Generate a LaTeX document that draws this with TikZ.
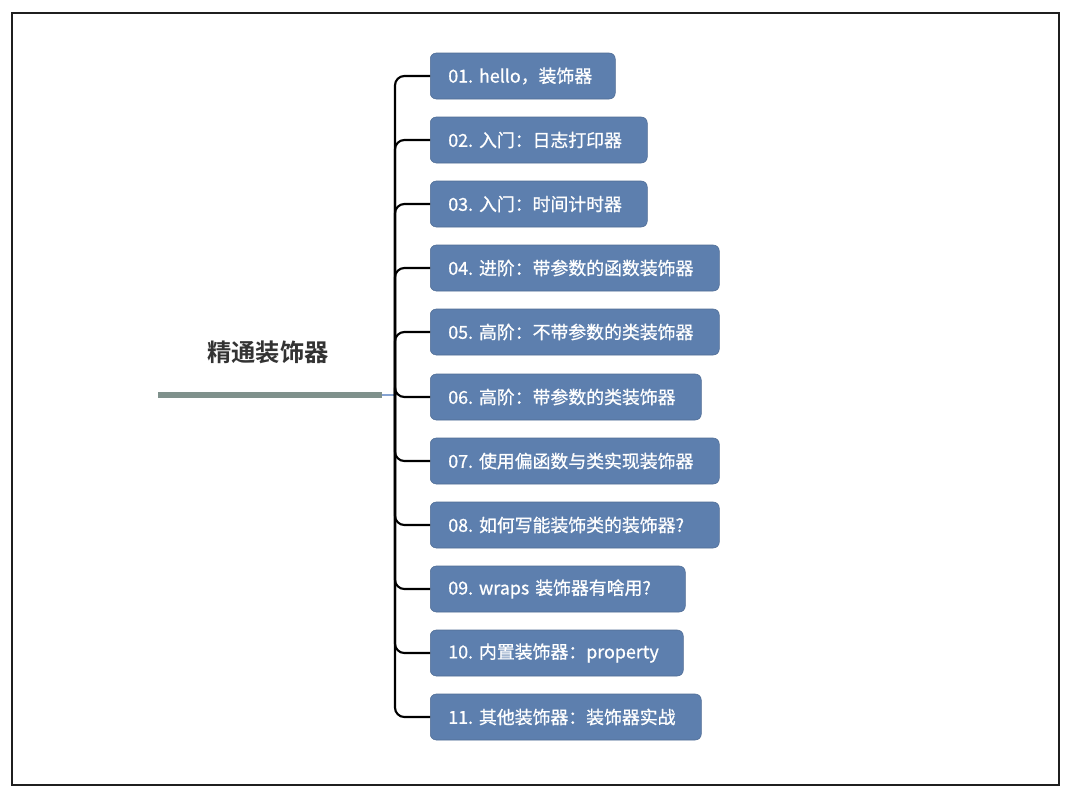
\documentclass[tikz,border=0pt]{standalone}
\usepackage{fontspec}
\setmainfont{Noto Sans CJK SC}[WordSpace=0.7, FakeBold=0.8]
\newfontfamily\cjkbold{Noto Sans CJK SC}[BoldFont={* Bold}]
\definecolor{boxblue}{HTML}{5D7FAE}
\definecolor{rootgray}{HTML}{7F918C}
\definecolor{thinblue}{HTML}{86A3D2}
\definecolor{titlegray}{HTML}{333333}
\frenchspacing
\begin{document}
\begin{tikzpicture}[x=0.75pt,y=-0.75pt,
  topicbox/.style={draw=boxblue!85!black, line width=0.4pt, fill=boxblue, rounded corners=4.5pt,
    text=white, anchor=west, minimum height=34.5pt, inner xsep=13.5pt, inner ysep=0pt,
    font=\fontsize{13.4}{15}\selectfont\frenchspacing, align=left},
  branch/.style={draw=black, line width=1.6pt, rounded corners=7pt},
]
\useasboundingbox (0,0) rectangle (1080,810);
\draw[line width=1.5pt, draw=black!88] (12,13) rectangle (1059,785);

\node[font=\cjkbold\bfseries\fontsize{18.2}{21}\selectfont, text=titlegray] (title) at (268,352) {精通装饰器};
\coordinate (rootL) at (158,395);
\coordinate (rootR) at (382,395);
\coordinate (hub) at (395,395);
\draw[line width=3.8pt, draw=rootgray] (rootL) -- (rootR);
\draw[line width=0.8pt, draw=thinblue] (rootR) -- (hub);

\foreach \i/\y/\r/\t in {
  1/76/615/{01. hello，装饰器},
  2/140/647/{02. 入门：日志打印器},
  3/204/647/{03. 入门：时间计时器},
  4/268/719/{04. 进阶：带参数的函数装饰器},
  5/332/719/{05. 高阶：不带参数的类装饰器},
  6/397/701/{06. 高阶：带参数的类装饰器},
  7/461/719/{07. 使用偏函数与类实现装饰器},
  8/525/719/{08. 如何写能装饰类的装饰器?},
  9/589/685/{09. wraps 装饰器有啥用?},
  10/653/683/{10. 内置装饰器：property},
  11/717/701/{11. 其他装饰器：装饰器实战}}{
  \pgfmathsetmacro{\w}{(\r-430)*0.75-27}
  \node[topicbox, text width=\w pt] (t\i) at (430,\y) {\t};
  \draw[branch] (hub) |- (t\i.west);
}
\end{tikzpicture}
\end{document}
